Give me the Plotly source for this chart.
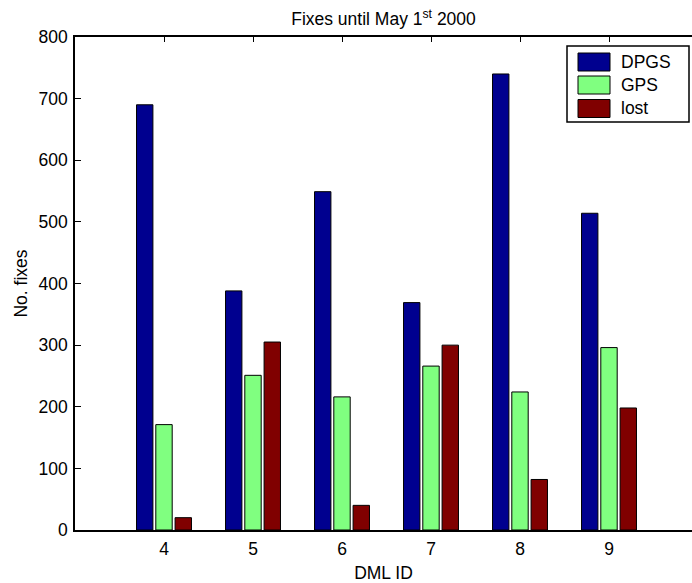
import plotly.graph_objects as go

# ---- data ----
dml_ids = [4, 5, 6, 7, 8, 9]
series_names = ["DPGS", "GPS", "lost"]
dpgs = [690, 388, 549, 369, 740, 514]
gps = [171, 251, 216, 266, 224, 296]
lost = [20, 305, 40, 300, 82, 198]
y_ticks = [0, 100, 200, 300, 400, 500, 600, 700, 800]
title_text = "Fixes until May 1<sup>st</sup> 2000"
x_title = "DML ID"
y_title = "No. fixes"

series_values = [dpgs, gps, lost]
colors = ["rgb(0,0,143)", "rgb(128,255,128)", "rgb(128,0,0)"]

FONT = "Liberation Sans, Arial, sans-serif"
FS = 17.5

W, H = 692, 583
ML, MR, MT, MB = 75, 0, 37, 53
PW = W - ML - MR
PH = H - MT - MB
UNIT_PX = 89.0  # pixels per category unit

fig = go.Figure()
for name, vals, col in zip(series_names, series_values, colors):
    fig.add_trace(go.Bar(
        x=dml_ids, y=vals, name=name,
        marker=dict(color=col, line=dict(color="black", width=1)),
        showlegend=False,
    ))


def px_x(px):
    return (px - ML) / PW


def px_y(py):
    return (H - MB - py) / PH


shapes = []
annotations = []
# legend box
shapes.append(dict(type="rect", xref="paper", yref="paper",
                   x0=px_x(567), x1=px_x(689), y0=px_y(122), y1=px_y(46),
                   line=dict(color="black", width=1.5), fillcolor="white", layer="above"))
row_centers = [62, 85, 108.5]
for name, col, rc in zip(series_names, colors, row_centers):
    shapes.append(dict(type="rect", xref="paper", yref="paper",
                       x0=px_x(578), x1=px_x(610), y0=px_y(rc + 9), y1=px_y(rc - 9),
                       line=dict(color="black", width=1), fillcolor=col, layer="above"))
    annotations.append(dict(text=name, xref="paper", yref="paper",
                            x=px_x(619), y=px_y(rc), xanchor="left", yanchor="middle",
                            showarrow=False, font=dict(family=FONT, size=FS, color="black")))

fig.update_layout(
    width=W, height=H,
    margin=dict(l=ML, r=MR, t=MT, b=MB, pad=0, autoexpand=False),
    paper_bgcolor="white", plot_bgcolor="white",
    font=dict(family=FONT, size=FS, color="black"),
    barmode="group", bargap=0.35, bargroupgap=0.15,
    title=dict(text=title_text, x=0.5, xref="paper", xanchor="center",
               y=1 - 19.0 / H, yref="container", yanchor="middle",
               font=dict(family=FONT, size=FS, color="black")),
    xaxis=dict(range=[3, 3 + PW / UNIT_PX], tickmode="array", tickvals=dml_ids,
               ticktext=[str(v) for v in dml_ids],
               ticks="inside", ticklen=5, tickwidth=1, tickcolor="black",
               showline=True, linecolor="black", linewidth=1.5, mirror="ticks",
               showgrid=False, zeroline=False, layer="below traces",
               ticklabelstandoff=2,
               title=dict(text=x_title, standoff=10, font=dict(family=FONT, size=FS))),
    yaxis=dict(range=[0, 800], tickmode="array", tickvals=y_ticks,
               ticks="inside", ticklen=6, tickwidth=1, tickcolor="black",
               showline=True, linecolor="black", linewidth=1.5, mirror=False,
               showgrid=False, zeroline=False,
               ticklabelstandoff=2,
               title=dict(text=y_title, standoff=6, font=dict(family=FONT, size=FS))),
    shapes=shapes,
    annotations=annotations,
)

fig.write_html("out.html", config={"displayModeBar": False},
               post_script="document.body.style.margin='0px';document.body.style.overflow='hidden';")
